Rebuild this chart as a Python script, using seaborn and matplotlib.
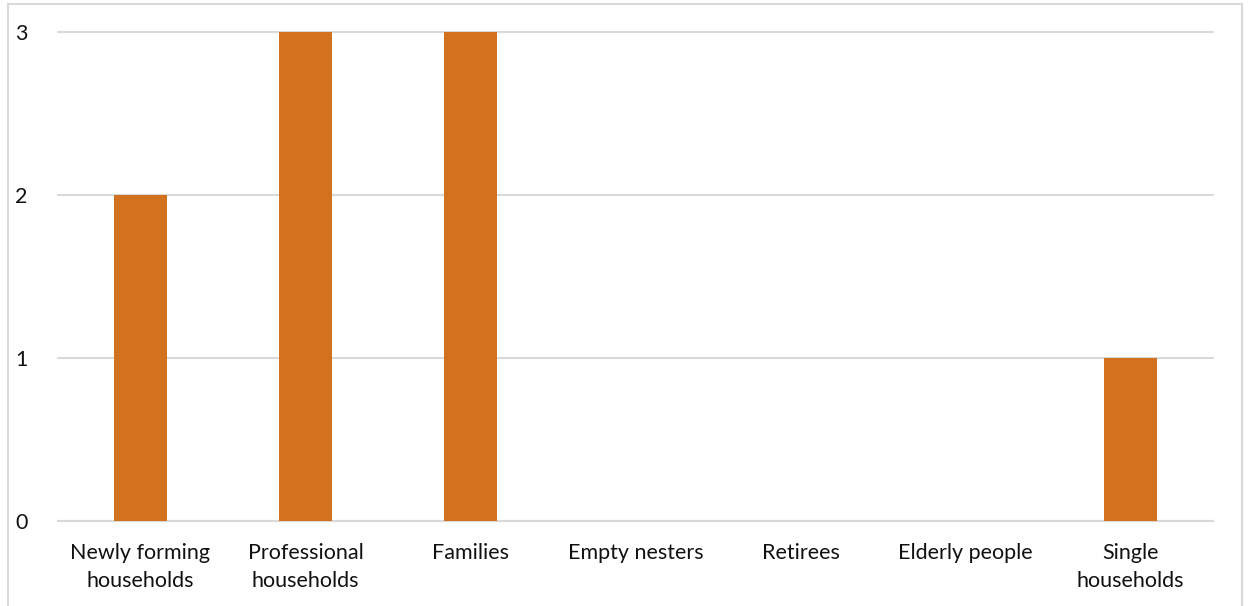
import matplotlib
matplotlib.use("Agg")
import matplotlib.pyplot as plt
import matplotlib.patches as mpatches
import seaborn as sns
import pandas as pd

categories = [
    "Newly forming\nhouseholds",
    "Professional\nhouseholds",
    "Families",
    "Empty nesters",
    "Retirees",
    "Elderly people",
    "Single\nhouseholds",
]
counts = [2, 3, 3, 0, 0, 0, 1]
y_ticks = [0, 1, 2, 3]

BAR_COLOR = "#D2721E"
GRID_COLOR = "#D9D9D9"

sns.set_theme(style="white")
plt.rcParams["font.family"] = ["Lato", "DejaVu Sans"]

W, H = 1249, 606
fig = plt.figure(figsize=(W / 100, H / 100), dpi=100)

# chart frame
fig.patches.append(mpatches.Rectangle(
    (8 / W, -0.05), (1242 - 8) / W, 1.05 - 4.5 / H,
    transform=fig.transFigure, fill=False, edgecolor=GRID_COLOR, linewidth=1.5))

left, right, top, bottom = 58, 1213, 32, 521
ax = fig.add_axes([left / W, 1 - bottom / H, (right - left) / W, (bottom - top) / H])

df = pd.DataFrame({"category": categories, "count": counts})
sns.barplot(data=df, x="category", y="count", color=BAR_COLOR, saturation=1,
            width=0.32, linewidth=0, ax=ax, zorder=3)

ax.set_xlim(-0.5, len(categories) - 0.5)
ax.set_ylim(0, 3)
ax.set_yticks(y_ticks)
ax.set_yticklabels([str(t) for t in y_ticks])
ax.yaxis.grid(True, color=GRID_COLOR, linewidth=1.5, zorder=0)
ax.set_axisbelow(True)
for g in ax.get_ygridlines():
    g.set_clip_on(False)
for s in ["top", "right", "left"]:
    ax.spines[s].set_visible(False)
ax.spines["bottom"].set_color(GRID_COLOR)
ax.spines["bottom"].set_linewidth(1.5)
ax.set_xlabel("")
ax.set_ylabel("")
ax.tick_params(axis="both", length=0, labelsize=15.5, colors="#111111")
ax.tick_params(axis="y", pad=22)
ax.tick_params(axis="x", pad=16)
for lbl in ax.get_xticklabels():
    lbl.set_linespacing(1.5)

fig.savefig("out.png", dpi=100)
